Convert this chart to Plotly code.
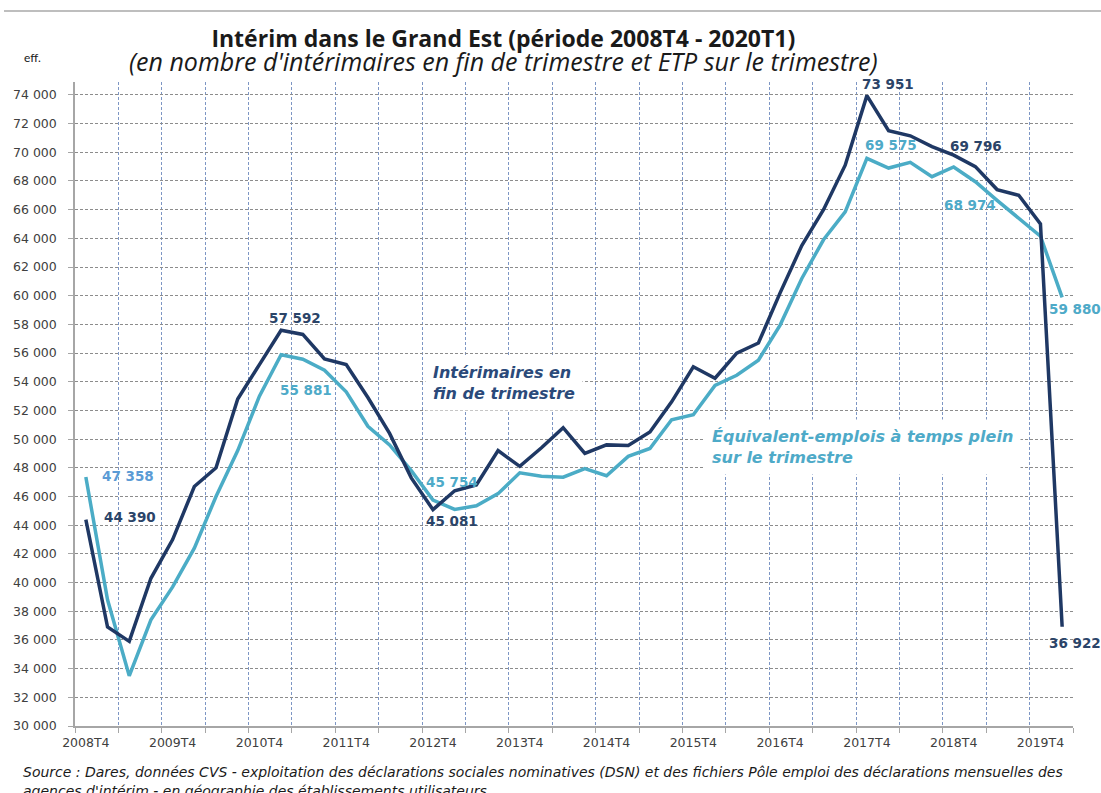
import plotly.graph_objects as go

quarters = ["2008T4",
            "2009T1", "2009T2", "2009T3", "2009T4",
            "2010T1", "2010T2", "2010T3", "2010T4",
            "2011T1", "2011T2", "2011T3", "2011T4",
            "2012T1", "2012T2", "2012T3", "2012T4",
            "2013T1", "2013T2", "2013T3", "2013T4",
            "2014T1", "2014T2", "2014T3", "2014T4",
            "2015T1", "2015T2", "2015T3", "2015T4",
            "2016T1", "2016T2", "2016T3", "2016T4",
            "2017T1", "2017T2", "2017T3", "2017T4",
            "2018T1", "2018T2", "2018T3", "2018T4",
            "2019T1", "2019T2", "2019T3", "2019T4",
            "2020T1"]

tick_labels = ["2008T4", "2009T4", "2010T4", "2011T4", "2012T4", "2013T4",
               "2014T4", "2015T4", "2016T4", "2017T4", "2018T4", "2019T4"]

interimaires = [44390, 36900, 35900, 40300, 43000, 46700, 48000, 52800, 55200, 57592,
                57300, 55600, 55200, 52900, 50400, 47300, 45081, 46400, 46800, 49200,
                48100, 49400, 50800, 49000, 49600, 49550, 50500, 52600, 55050, 54250,
                56000, 56700, 60200, 63500, 66000, 69100, 73951, 71500, 71150, 70400,
                69796, 69000, 67400, 67000, 65000, 36922]

etp = [47358, 38800, 33500, 37400, 39700, 42400, 46000, 49200, 53000, 55881,
       55570, 54800, 53300, 50900, 49600, 47800, 45754, 45100, 45350, 46200,
       47650, 47420, 47350, 47950, 47450, 48800, 49350, 51350, 51700, 53750,
       54450, 55500, 57950, 61200, 63900, 65850, 69575, 68900, 69300, 68300,
       68974, 67950, 66650, 65400, 64150, 59880]

y_ticks = list(range(30000, 74001, 2000))

DARK = "#1f3864"
LIGHT = "#4bacc6"
DARK_TXT = "#2b4468"
LIGHT_TXT = "#4eaac8"

idx = list(range(len(quarters)))
tick_pos = [quarters.index(t) for t in tick_labels]

fig = go.Figure()
fig.add_trace(go.Scatter(x=idx, y=etp, mode="lines", name="ETP",
                         line=dict(color=LIGHT, width=3.5), hoverinfo="skip"))
fig.add_trace(go.Scatter(x=idx, y=interimaires, mode="lines", name="Intérimaires",
                         line=dict(color=DARK, width=3.5), hoverinfo="skip"))

# plot-area geometry in pixels (for paper-coordinate text)
L, R, T, B = 75, 1073, 82, 726
def px(x):
    return (x - L) / (R - L)
def py(y):
    return (B - y) / (B - T)

def fmt(v):
    return f"{v:,}".replace(",", " ")

annotations = []
label_font = dict(family="DejaVu Sans", size=13.5)

# (series, index, color, xanchor, xshift, yshift)
labels = [
    (etp, 0, "#5b9bd5", "left", 14, 1),
    (interimaires, 0, DARK_TXT, "left", 16, 3),
    (interimaires, 9, DARK_TXT, "center", 14, 12),
    (etp, 9, LIGHT_TXT, "center", 25, -35),
    (etp, 16, LIGHT_TXT, "center", 19, 18),
    (interimaires, 16, DARK_TXT, "center", 19, -11),
    (interimaires, 36, DARK_TXT, "center", 21, 12),
    (etp, 36, LIGHT_TXT, "center", 24, 13),
    (interimaires, 40, DARK_TXT, "center", 22, 9),
    (etp, 40, LIGHT_TXT, "center", 16, -38),
    (etp, 45, LIGHT_TXT, "left", -15, -12),
    (interimaires, 45, DARK_TXT, "left", -15, -16),
]
for series, i, col, xa, xs, ys in labels:
    annotations.append(dict(x=i, y=series[i], xref="x", yref="y", text=f"<b>{fmt(series[i])}</b>",
                            showarrow=False, xanchor=xa, yanchor="middle", xshift=xs, yshift=ys,
                            font=dict(color=col, **label_font)))

title_text = ("<span style='font-size:23px'><b>Intérim dans le Grand Est (période 2008T4 - 2020T1)</b></span>"
              "<br><span style='font-size:25px'><i>(en nombre d'intérimaires en fin de trimestre et ETP sur le trimestre)</i></span>")

annotations += [
    dict(x=px(503), y=py(50), xref="paper", yref="paper", showarrow=False,
         text=title_text, xanchor="center", yanchor="middle", align="center",
         font=dict(family="Open Sans", size=18.5, color="#1a1a1a")),
    dict(x=px(22), y=py(58), xref="paper", yref="paper", showarrow=False,
         text="eff.", xanchor="left", yanchor="middle",
         font=dict(family="Lato", size=12, color="#1a1a1a")),
    dict(x=px(425), y=py(383), xref="paper", yref="paper", showarrow=False,
         text="<b><i>Intérimaires en<br>fin de trimestre</i></b>", align="left",
         xanchor="left", yanchor="middle", bgcolor="white", borderpad=7,
         font=dict(family="DejaVu Sans", size=16, color="#2b4a7a")),
    dict(x=px(704), y=py(447), xref="paper", yref="paper", showarrow=False,
         text="<b><i>Équivalent-emplois à temps plein<br>sur le trimestre</i></b>", align="left",
         xanchor="left", yanchor="middle", bgcolor="white", borderpad=7,
         font=dict(family="DejaVu Sans", size=16, color=LIGHT_TXT)),
    dict(x=px(21), y=py(772), xref="paper", yref="paper", showarrow=False,
         text="<i>Source : Dares, données CVS - exploitation des déclarations sociales nominatives (DSN) et des fichiers Pôle emploi des déclarations mensuelles des</i>",
         xanchor="left", yanchor="middle",
         font=dict(family="DejaVu Sans", size=14, color="#1a1a1a")),
    dict(x=px(21), y=py(791), xref="paper", yref="paper", showarrow=False,
         text="<i>agences d'intérim - en géographie des établissements utilisateurs</i>",
         xanchor="left", yanchor="middle",
         font=dict(family="DejaVu Sans", size=14, color="#1a1a1a")),
]

shapes = [dict(type="line", xref="paper", yref="paper", x0=px(4), x1=px(1101), y0=py(11), y1=py(11),
               line=dict(color="#a8a8a8", width=1.5))]

fig.update_layout(
    width=1101, height=793,
    margin=dict(l=L, r=1101 - R, t=T, b=793 - B),
    paper_bgcolor="white", plot_bgcolor="white",
    showlegend=False,
    separators=", ",
    annotations=annotations,
    shapes=shapes,
    xaxis=dict(
        range=[-0.5, len(quarters) - 0.5],
        tickmode="array", tickvals=tick_pos, ticktext=tick_labels,
        ticks="", showgrid=False, zeroline=False, ticklabelstandoff=4,
        showline=True, linecolor="#a6a6a6", linewidth=1.5,
        tickfont=dict(family="DejaVu Sans", size=12.5, color="#404040"),
        minor=dict(tickmode="linear", tick0=-0.5, dtick=2, showgrid=True,
                   gridcolor="#7d96c4", griddash="3px,2px", gridwidth=1,
                   ticks="outside", ticklen=5, tickcolor="#a6a6a6"),
        fixedrange=True,
    ),
    yaxis=dict(
        range=[30000, 74900],
        tickmode="array", tickvals=y_ticks, tickformat=",d",
        ticks="outside", ticklen=5, tickcolor="#a6a6a6", ticklabelstandoff=9,
        showgrid=True, gridcolor="#8c8c8c", griddash="3px,2px", gridwidth=1,
        zeroline=False, showline=True, linecolor="#a6a6a6", linewidth=1.5,
        tickfont=dict(family="DejaVu Sans", size=12.5, color="#404040"),
        fixedrange=True,
    ),
)

fig.write_html("out.html", config={"displayModeBar": False},
               post_script="document.body.style.margin='0';document.body.style.overflow='hidden';")
